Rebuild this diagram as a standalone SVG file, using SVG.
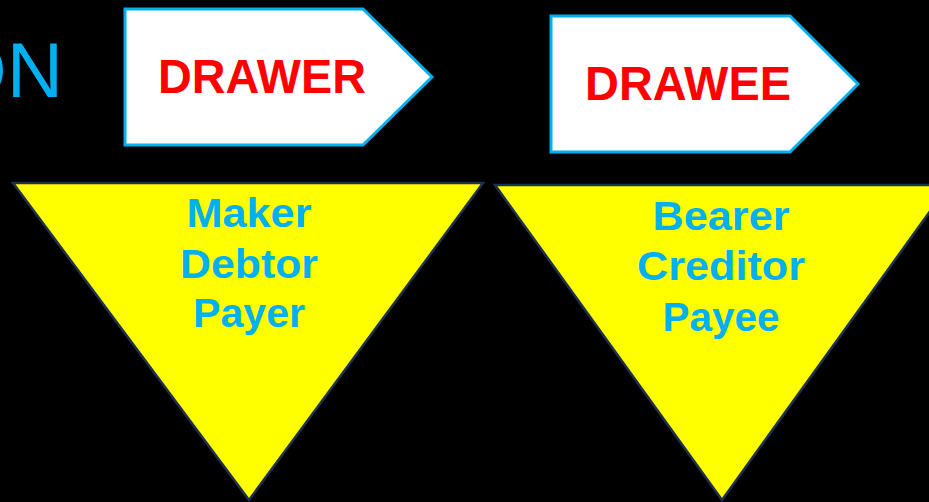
<svg xmlns="http://www.w3.org/2000/svg" width="929" height="502" viewBox="0 0 929 502">
<style>
.tag{fill:#FFFFFF;stroke:#00B0F0;stroke-width:3}
.tri{fill:#FFFF00;stroke:#1F2F4F;stroke-width:2.5}
.tt{font-family:"Liberation Sans",Arial,sans-serif;font-weight:bold;fill:#FF0000;font-size:48px;text-anchor:middle}
.lb{font-family:"Liberation Sans",Arial,sans-serif;font-weight:bold;fill:#00B0F0;font-size:40px;text-anchor:middle}
.hd{font-family:"Liberation Sans",Arial,sans-serif;fill:#00B0F0;font-size:78px;text-anchor:end}
</style>
<rect x="0" y="0" width="929" height="502" fill="#000000"/>
<text class="hd" x="63" y="97">ON</text>
<g id="drawer">
<polygon class="tag" points="125,9 363,9 432,77 363,145 125,145"/>
<text class="tt" x="262" y="93" textLength="208" lengthAdjust="spacingAndGlyphs">DRAWER</text>
</g>
<g id="drawee">
<polygon class="tag" points="551,16 790,16 858,84 790,152 551,152"/>
<text class="tt" x="688" y="100" textLength="206" lengthAdjust="spacingAndGlyphs">DRAWEE</text>
</g>
<g id="drawer-roles">
<polygon class="tri" points="13,183 483,183 249,500"/>
<text class="lb" x="249" y="227" textLength="125" lengthAdjust="spacingAndGlyphs">Maker</text>
<text class="lb" x="249" y="278" textLength="138" lengthAdjust="spacingAndGlyphs">Debtor</text>
<text class="lb" x="249" y="327" textLength="112" lengthAdjust="spacingAndGlyphs">Payer</text>
</g>
<g id="drawee-roles">
<polygon class="tri" points="495,185 949,185 722,500"/>
<text class="lb" x="721" y="230" textLength="137" lengthAdjust="spacingAndGlyphs">Bearer</text>
<text class="lb" x="721" y="280" textLength="168" lengthAdjust="spacingAndGlyphs">Creditor</text>
<text class="lb" x="721" y="331" textLength="117" lengthAdjust="spacingAndGlyphs">Payee</text>
</g>
<g id="connectors"/>
</svg>
